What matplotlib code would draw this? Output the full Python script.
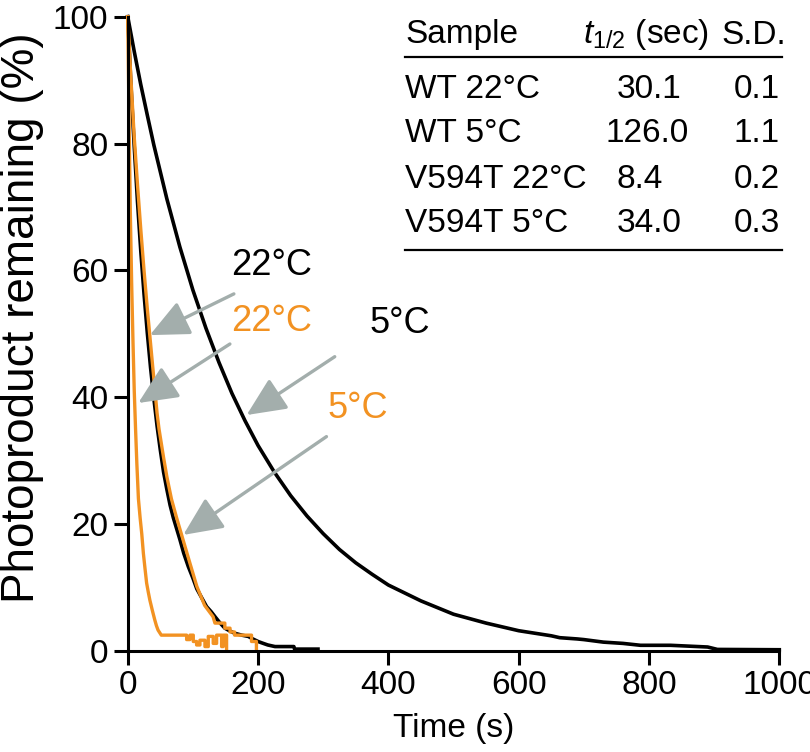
import matplotlib.pyplot as plt

plt.rcParams['font.family'] = ['Liberation Sans', 'DejaVu Sans']
plt.rcParams['mathtext.fontset'] = 'custom'
plt.rcParams['mathtext.rm'] = 'Liberation Sans'
plt.rcParams['mathtext.it'] = 'Liberation Sans:italic'

# WT 5 C (black, slow)
wt5_t = [0, 10, 20, 30, 40, 60, 80, 100, 120, 140, 160, 180, 200, 225, 250, 275, 300, 325,
         350, 375, 400, 450, 500, 550, 600, 650, 663, 690, 700, 730, 760, 787, 833, 890, 905, 1000]
wt5_v = [100, 94.5, 89.3, 84.5, 79.8, 71.3, 63.7, 56.9, 50.9, 45.5, 40.6, 36.3, 32.4, 28.2, 24.5,
         21.3, 18.5, 16.0, 13.9, 12.1, 10.4, 7.9, 5.8, 4.4, 3.2, 2.4, 2.1, 1.9, 1.8, 1.4, 1.2, 0.9,
         0.9, 0.63, 0.25, 0.2]

# WT 22 C (black, fast)
wt22_t = [0, 5, 10, 15, 20, 25, 30, 35, 40, 45, 50, 55, 60, 65, 70, 75, 80, 86, 93, 100, 106, 114,
          121, 128, 134, 141, 149, 156, 164, 175, 185, 192, 200, 208, 215, 226, 240, 255, 256, 275, 292]
wt22_v = [100, 89.1, 79.5, 70.8, 63.1, 56.3, 50.2, 44.7, 39.9, 35.5, 31.7, 28.2, 25.5, 23, 21, 19.3,
          17.6, 15.4, 13.3, 11.5, 9.8, 8.3, 7.0, 6.2, 5.4, 4.5, 3.6, 3.2, 2.8, 2.5, 2.3, 1.9, 1.5, 1.2,
          0.95, 0.7, 0.7, 0.7, 0.3, 0.3, 0.3]

# V594T 5 C (orange)
v5_t = [0, 5, 10, 15, 20, 25, 30, 35, 40, 45, 48, 55, 60, 67, 75, 85, 95, 106, 118, 131, 133.8,
        149, 149, 157, 157, 164, 164, 190, 190, 197.5, 197.5]
v5_v = [100, 90, 81, 73.5, 66.5, 60, 54, 48.5, 43, 37.5, 35, 30.5, 27.5, 24, 21, 17.5, 14, 10.2,
        7.2, 5.4, 4.4, 4.4, 3.6, 3.6, 3.0, 3.0, 2.5, 2.5, 1.5, 1.5, 0]

# V594T 22 C (orange, fastest)
v22_t = [0, 2, 4, 6, 8, 10, 12, 14, 16.4, 19, 21.5, 24, 26.5, 29, 31.5, 34, 38, 41.5, 44, 46.5, 51.5,
         90.4, 90.4, 95.5, 95.5, 100.6, 100.6, 105.7, 105.7, 110.8, 110.8, 118.5, 118.5, 123.6,
         123.6, 131.2, 131.2, 136.4, 136.4, 144.1, 144.1, 146.6, 146.6, 151.7, 151.7]
v22_v = [100, 84, 69, 58, 49, 41, 35, 29.5, 24, 21, 18.5, 15.4, 13, 10.7, 9.3, 8, 6.3, 4.9, 4.0, 3.3, 2.5,
         2.5, 1.8, 1.8, 2.5, 2.5, 1.5, 1.5, 0.95, 0.95, 1.7, 1.7, 0.7, 0.7, 2.3, 2.3, 1.2, 1.2, 2.5,
         2.5, 0.7, 0.7, 2.5, 2.5, 0]

samples = ['WT 22°C', 'WT 5°C', 'V594T 22°C', 'V594T 5°C']
half_lives = ['30.1', '126.0', '8.4', '34.0']
sds = ['0.1', '1.1', '0.2', '0.3']

orange = '#F29222'
grey = '#A3AEAC'

fig = plt.figure(figsize=(8.1, 7.52), dpi=100)
ax = fig.add_axes([0.1577, 0.1343, 0.8044, 0.8435])

ax.plot(wt5_t, wt5_v, color='black', lw=2.6, clip_on=False)
ax.plot(wt22_t, wt22_v, color='black', lw=2.6, clip_on=False)
ax.plot(v5_t, v5_v, color=orange, lw=2.4, clip_on=False)
ax.plot(v22_t, v22_v, color=orange, lw=2.4, clip_on=False)

ax.set_xlim(0, 1000)
ax.set_ylim(0, 100)
ax.set_xticks([0, 200, 400, 600, 800, 1000])
ax.set_yticks([0, 20, 40, 60, 80, 100])
for s in ['top', 'right']:
    ax.spines[s].set_visible(False)
for s in ['left', 'bottom']:
    ax.spines[s].set_linewidth(2.2)
ax.tick_params(direction='out', length=10, width=2.2, labelsize=24, pad=4)
ax.set_xlabel('Time (s)', fontsize=24, labelpad=8)

W, H = 810.0, 752.0
def fx(px):
    return px / W
def fy(py):
    return 1 - py / H

fig.text(fx(22), fy(318), 'Photoproduct remaining (%)', fontsize=33, rotation=90,
         ha='center', va='center')

# arrows and labels
arrows = [((162.9, 56.3), (33.9, 49.8)),
          ((156.8, 48.4), (16.2, 39.1)),
          ((317.7, 46.4), (182.4, 37.2)),
          ((305.0, 33.8), (85.2, 18.3))]
for tail, tip in arrows:
    ax.annotate('', xy=tip, xytext=tail,
                arrowprops=dict(arrowstyle='-|>,head_length=1.2,head_width=0.55',
                                color=grey, lw=2.4, mutation_scale=20,
                                shrinkA=0, shrinkB=0))

ax.text(221.5, 60.7, '22°C', fontsize=26, color='black', ha='center', va='center')
ax.text(221.5, 51.9, '22°C', fontsize=26, color=orange, ha='center', va='center')
ax.text(417.6, 51.6, '5°C', fontsize=26, color='black', ha='center', va='center')
ax.text(353.2, 38.3, '5°C', fontsize=26, color=orange, ha='center', va='center')

# table in the upper right
fig.text(fx(405), fy(35), 'Sample', fontsize=24, va='center')
fig.text(fx(583), fy(35), r'$t_{1/2}$ (sec)', fontsize=24, va='center')
fig.text(fx(786), fy(35), 'S.D.', fontsize=24, va='center', ha='right')
fig.add_artist(plt.Line2D([fx(405), fx(782)], [fy(57), fy(57)], color='black', lw=1.6))
row_y = [90, 134, 179, 223]
val_x = [617, 605, 617, 617]
for i in range(len(samples)):
    fig.text(fx(405), fy(row_y[i]), samples[i], fontsize=24, va='center')
    fig.text(fx(val_x[i]), fy(row_y[i]), half_lives[i], fontsize=24, va='center')
    fig.text(fx(734), fy(row_y[i]), sds[i], fontsize=24, va='center')
fig.add_artist(plt.Line2D([fx(405), fx(782)], [fy(250), fy(250)], color='black', lw=1.6))

fig.savefig('out.png', dpi=100)
